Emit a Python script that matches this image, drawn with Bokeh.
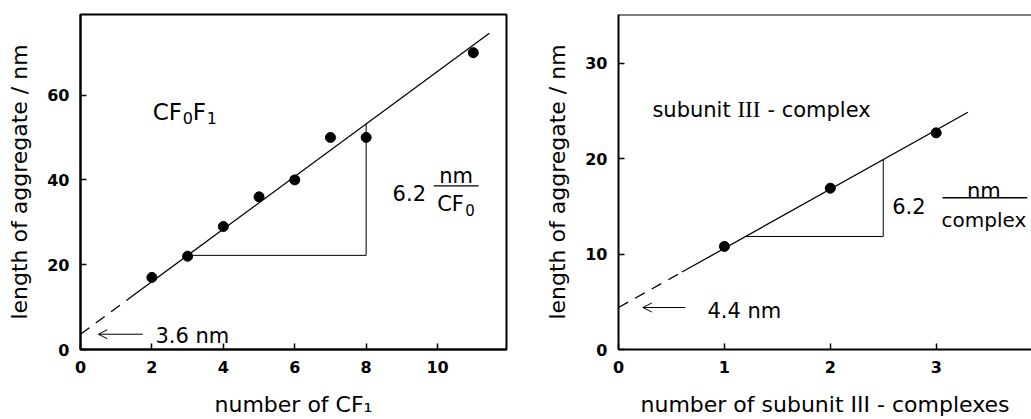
from bokeh.plotting import figure
from bokeh.layouts import row
from bokeh.models import FixedTicker, Range1d, Arrow, OpenHead, Span
from bokeh.core.properties import value
from bokeh.embed import file_html
from bokeh.resources import INLINE

# ---------------- data: left panel (CF0F1) ----------------
cf_number = [2, 3, 4, 5, 6, 7, 8, 11]
cf_length = [17, 22, 29, 36, 40, 50, 50, 70]
cf_intercept = 3.6
cf_slope = 6.2
cf_fit_dash_x = [0, 1.5]
cf_fit_solid_x = [1.5, 11.45]
cf_triangle_x = [3, 8]
cf_xticks = [0, 2, 4, 6, 8, 10]
cf_yticks = [0, 20, 40, 60]

# ---------------- data: right panel (subunit III - complex) ----------------
sub_number = [1, 2, 3]
sub_length = [10.8, 16.9, 22.7]
sub_intercept = 4.4
sub_slope = 6.2
sub_fit_dash_x = [0, 0.6]
sub_fit_solid_x = [0.6, 3.3]
sub_triangle_x = [1.2, 2.5]
sub_xticks = [0, 1, 2, 3]
sub_yticks = [0, 10, 20, 30]

SANS = "DejaVu Sans"
SERIF = "Liberation Serif"


def fit(xs, a, b):
    return [a + b * x for x in xs]


def make_fig(width, bl, br, x_end, y_end, xticks, yticks, xlabel, ylabel):
    p = figure(width=width, height=419, x_range=Range1d(0, x_end), y_range=Range1d(0, y_end),
               output_backend="svg", toolbar_location=None,
               min_border_left=bl, min_border_right=br, min_border_top=14, min_border_bottom=70)
    p.grid.visible = False
    p.background_fill_color = "white"
    p.border_fill_color = "white"
    p.xaxis.ticker = FixedTicker(ticks=xticks)
    p.yaxis.ticker = FixedTicker(ticks=yticks)
    p.xaxis.axis_label = xlabel
    p.yaxis.axis_label = ylabel
    for ax in (p.xaxis[0], p.yaxis[0]):
        ax.axis_line_width = 2
        ax.axis_line_color = "black"
        ax.major_tick_in = 6
        ax.major_tick_out = 0
        ax.major_tick_line_width = 1.5
        ax.minor_tick_line_color = None
        ax.major_label_text_font = SANS
        ax.major_label_text_font_size = "16px"
        ax.major_label_text_font_style = "bold"
        ax.major_label_text_color = "black"
        ax.axis_label_text_font = SANS
        ax.axis_label_text_font_size = "22px"
        ax.axis_label_text_font_style = "normal"
        ax.axis_label_text_color = "black"
    p.xaxis.major_label_standoff = 11
    p.yaxis.major_label_standoff = 11
    p.xaxis.axis_label_standoff = 16
    p.yaxis.axis_label_standoff = 12
    return p


def txt(p, x, y, s, size="21px", align="left", font=SANS, x_offset=0):
    p.text(x=[x], y=[y], text=[s], text_font=value(font), text_font_size=value(size),
           text_align=align, text_baseline="alphabetic", text_color="black", x_offset=x_offset)


# ================= left panel =================
p1 = make_fig(512, 80, 6, 11.93, 79, cf_xticks, cf_yticks,
              "number of CF\u2081", "length of aggregate / nm")
p1.outline_line_color = "black"
p1.outline_line_width = 2

p1.line(cf_fit_dash_x, fit(cf_fit_dash_x, cf_intercept, cf_slope), line_color="black",
        line_width=1.3, line_dash="11 8")
p1.line(cf_fit_solid_x, fit(cf_fit_solid_x, cf_intercept, cf_slope), line_color="black", line_width=1.3)
ty = fit(cf_triangle_x, cf_intercept, cf_slope)
p1.line([cf_triangle_x[0], cf_triangle_x[1], cf_triangle_x[1]], [ty[0], ty[0], ty[1]],
        line_color="black", line_width=1)
p1.scatter(cf_number, cf_length, size=10, color="black")

# CF0F1 label with subscripts
lx, ly, sub_dy = 2.02, 56.0, 1.3
txt(p1, lx, ly, "CF", size="23px")
txt(p1, lx, ly - sub_dy, "0", size="16px", x_offset=30)
txt(p1, lx, ly, "F", size="23px", x_offset=40)
txt(p1, lx, ly - sub_dy, "1", size="16px", x_offset=54)

# slope annotation
txt(p1, 8.74, 36.9, "6.2")
txt(p1, 10.52, 41.0, "nm", align="center")
p1.line([9.89, 11.15], [38.6, 38.6], line_color="black", line_width=1.3)
txt(p1, 10.52, 34.2, "CF", x_offset=-19)
txt(p1, 10.52, 34.2 - sub_dy, "0", size="15px", x_offset=9)

txt(p1, 2.1, 3.3, "3.6 nm")
p1.add_layout(Arrow(end=OpenHead(size=9, line_width=1, line_color="black"),
                    x_start=1.74, y_start=cf_intercept, x_end=0.5, y_end=cf_intercept,
                    line_width=1, line_color="black"))

# ================= right panel =================
p2 = make_fig(519, 106, 0, 3.9, 35.1, sub_xticks, sub_yticks,
              "number of subunit III - complexes", "length of aggregate / nm")
p2.outline_line_color = None
p2.add_layout(Span(location=35.1, dimension="width", line_color="black", line_width=2))

p2.line(sub_fit_dash_x, fit(sub_fit_dash_x, sub_intercept, sub_slope), line_color="black",
        line_width=1.3, line_dash="11 8")
p2.line(sub_fit_solid_x, fit(sub_fit_solid_x, sub_intercept, sub_slope), line_color="black", line_width=1.3)
sy = fit(sub_triangle_x, sub_intercept, sub_slope)
p2.line([sub_triangle_x[0], sub_triangle_x[1], sub_triangle_x[1]], [sy[0], sy[0], sy[1]],
        line_color="black", line_width=1)
p2.scatter(sub_number, sub_length, size=10, color="black")

txt(p2, 0.32, 25.1, "subunit")
txt(p2, 0.32, 25.1, "III", size="23px", font=SERIF, x_offset=85)
txt(p2, 0.32, 25.1, "- complex", x_offset=115)
txt(p2, 2.585, 15.05, "6.2")
txt(p2, 3.45, 16.6, "nm", align="center")
p2.line([3.06, 3.86], [15.9, 15.9], line_color="black", line_width=1.3)
txt(p2, 3.45, 13.6, "complex", size="20px", align="center")
txt(p2, 0.84, 4.0, "4.4 nm")
p2.add_layout(Arrow(end=OpenHead(size=9, line_width=1, line_color="black"),
                    x_start=0.63, y_start=sub_intercept, x_end=0.23, y_end=sub_intercept,
                    line_width=1, line_color="black"))

layout = row(p1, p2)
open("out.html", "w").write(file_html(layout, INLINE))
